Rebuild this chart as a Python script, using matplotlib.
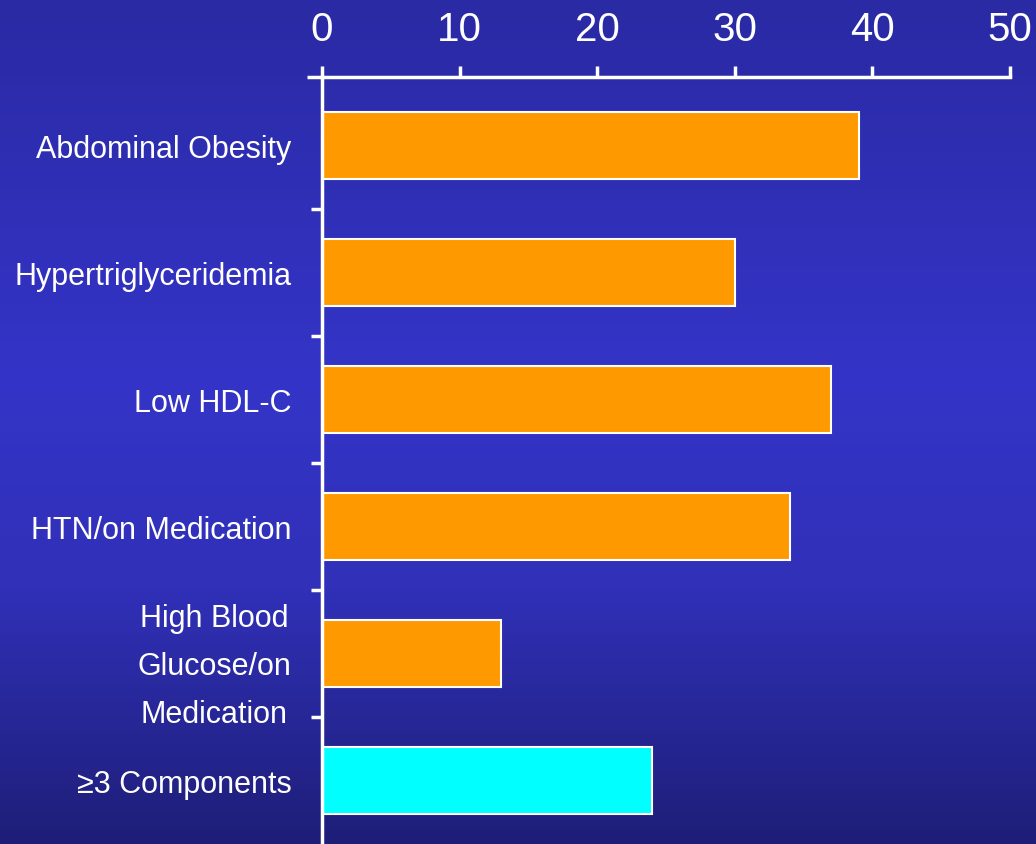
import numpy as np
import matplotlib
matplotlib.use("Agg")
import matplotlib.pyplot as plt
from matplotlib.colors import LinearSegmentedColormap

# data
labels = ["Abdominal Obesity", "Hypertriglyceridemia", "Low HDL-C",
          "HTN/on Medication", "High Blood\nGlucose/on\nMedication",
          "\u22653 Components"]
values = [39, 30, 37, 34, 13, 24]
colors = ["#FF9900"] * 5 + ["#00FFFF"]
xticks = [0, 10, 20, 30, 40, 50]

plt.rcParams['font.family'] = ['Liberation Sans', 'DejaVu Sans']

fig = plt.figure(figsize=(10.36, 8.45), dpi=100)

# blue slide background, darker at top and bottom
bg = fig.add_axes([0, 0, 1, 1], zorder=0)
cmap = LinearSegmentedColormap.from_list(
    "slide", [(0.0, "#2a2aa4"), (0.45, "#3434c8"), (0.7, "#3030b8"), (1.0, "#1e1e78")])
bg.imshow(np.linspace(0, 1, 256).reshape(-1, 1), aspect="auto", cmap=cmap,
          extent=[0, 1, 0, 1], origin="upper")
bg.axis("off")

ax = fig.add_axes([0.3108, 0.0, 0.9749 - 0.3108, 1 - 78 / 845], zorder=1)
ax.patch.set_alpha(0)

y = np.arange(len(labels))
ax.barh(y, values, height=0.53, color=colors, edgecolor="white", linewidth=1.5)

ax.set_xlim(0, 50)
ax.set_ylim(len(labels) - 0.5, -0.54)
ax.set_xticks(xticks)
ax.xaxis.tick_top()
ax.tick_params(axis="x", colors="white", labelcolor="white", labelsize=29,
               length=8, width=2.5, direction="out", pad=13)

ax.set_yticks(y)
ax.set_yticklabels(labels, multialignment="center")
for t in ax.get_yticklabels():
    t.set_linespacing(1.78)
ax.set_yticks(np.arange(len(labels) - 1) + 0.5, minor=True)
ax.tick_params(axis="y", which="major", length=0, labelcolor="white",
               labelsize=22, pad=22)
ax.tick_params(axis="y", which="minor", length=8, width=2.5, color="white")

for side in ["bottom", "right"]:
    ax.spines[side].set_visible(False)
for side in ["top", "left"]:
    ax.spines[side].set_color("white")
    ax.spines[side].set_linewidth(2.5)

# top axis line runs a little to the left of zero
ax.plot([-1.1, 0], [-0.54, -0.54], color="white", lw=2.5, clip_on=False,
        solid_capstyle="butt")

fig.savefig("out.png", dpi=100)
